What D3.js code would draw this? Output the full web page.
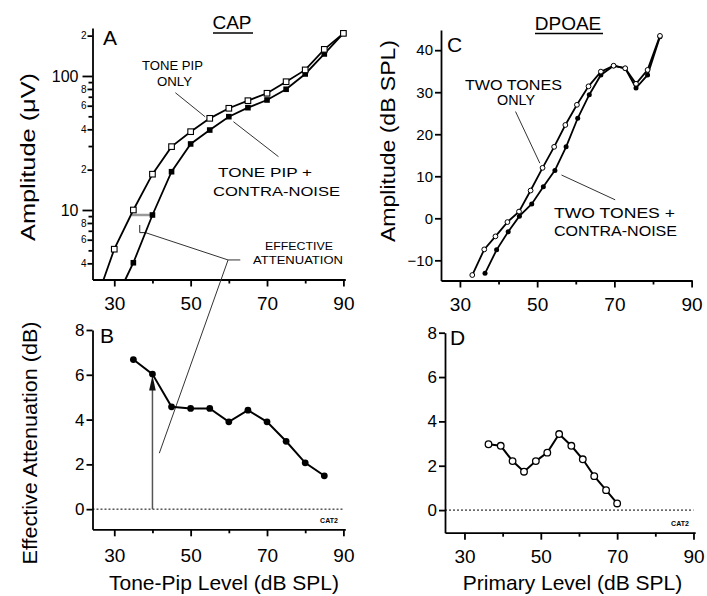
<!DOCTYPE html>
<html>
<head>
<meta charset="utf-8">
<script src="https://cdn.jsdelivr.net/npm/d3@7"></script>
<style>
  body { margin: 0; background: #fff; }
  svg { display: block; font-family: "Liberation Sans", Arial, Helvetica, sans-serif; }
  .axis path, .axis line { stroke: #000; stroke-width: 1.8; }
  .axis text { fill: #000; }
</style>
</head>
<body>
<div class="chart"></div>
<script>
// ---- values ----

// Panel A (CAP): amplitude (uV) vs tone-pip level. First entry = where the line leaves the x-axis
var capLevelOnly  = [27.2, 30, 35, 40, 45, 50, 55, 60, 65, 70, 75, 80, 85, 90];
var capAmpOnly    = [3.03, 5.1, 10.0, 18.5, 29.7, 38.4, 48.3, 57.4, 65.4, 74.3, 90.6, 111, 158, 208];
var capLevelNoise = [32.9, 35, 40, 45, 50, 55, 60, 65, 70, 75, 80, 85, 90];
var capAmpNoise   = [3.03, 4.04, 9.18, 19.3, 31.1, 39.5, 49.7, 58.0, 66.2, 79.6, 103.5, 146, 208];

// Panel B: effective attenuation of the CAP
var attLevel = [35, 40, 45, 50, 55, 60, 65, 70, 75, 80, 85];
var attCap   = [6.68, 6.03, 4.57, 4.5, 4.5, 3.9, 4.42, 3.9, 3.03, 2.07, 1.49];

// Panel C (DPOAE): amplitude (dB SPL) vs primary level
var dpLevelOnly  = [33.2, 36.3, 39.2, 42.3, 45.3, 48.3, 51.4, 54.4, 57.3, 60.3, 63.3, 66.5, 69.8, 72.8, 75.6, 78.6, 81.8];
var dpAmpOnly    = [-13.5, -7.4, -4.3, -0.9, 1.6, 6.6, 12.0, 17.0, 22.2, 27.0, 31.4, 34.9, 36.3, 35.7, 32.0, 35.3, 43.4];
var dpLevelNoise = [36.5, 39.5, 42.5, 45.4, 48.6, 51.6, 54.6, 57.5, 60.5, 63.5, 66.5, 69.8, 72.8, 75.6, 78.6, 81.8];
var dpAmpNoise   = [-13.1, -7.5, -3.2, 0.5, 3.4, 7.5, 11.4, 17.0, 23.8, 29.4, 34.1, 36.3, 35.7, 31.0, 34.1, 43.2];

// Panel D: effective attenuation of the DPOAE
var attDpLevel = [36.3, 39.5, 42.6, 45.6, 48.7, 51.7, 54.8, 58.0, 61.0, 64.0, 67.1, 70.0];
var attDp      = [2.97, 2.90, 2.21, 1.73, 2.21, 2.59, 3.43, 2.90, 2.29, 1.53, 0.90, 0.30];

// tick values and labels
var levelTicks = [30, 50, 70, 90];
var levelMinor = [40, 60, 80];
var capTicks      = [4, 5, 6, 7, 8, 9, 10, 20, 30, 40, 50, 60, 70, 80, 90, 100, 200];
var capTickLabels = ["4", "", "6", "", "8", "", "10", "2", "", "4", "", "6", "", "8", "", "100", "2"];
var dpTicks  = [-10, 0, 10, 20, 30, 40];
var attTicks = [0, 2, 4, 6, 8];

// ---- svg ----
var svg = d3.select(".chart")
  .append("svg")
  .attr("width", 707)
  .attr("height", 596);

// scales for the four panels
var xA = d3.scaleLinear().domain([24.3, 90.5]).range([92.5, 345.3]);
var yA = d3.scaleLog().domain([3.03, 228]).range([279.5, 28]);
var xB = d3.scaleLinear().domain([24.3, 90.5]).range([92.5, 345.3]);
var yB = d3.scaleLinear().domain([-0.9, 8]).range([529.3, 330]);
var xC = d3.scaleLinear().domain([25.1, 90.1]).range([441, 692]);
var yC = d3.scaleLinear().domain([-14.8, 44.8]).range([280.5, 30]);
var xD = d3.scaleLinear().domain([24.9, 90.45]).range([445, 695.2]);
var yD = d3.scaleLinear().domain([-1.02, 8]).range([532.7, 332.7]);

function zip(xs, ys) {
  return xs.map(function(x, i) { return [x, ys[i]]; });
}

// x axis with long labelled ticks and short unlabelled ones
function xAxis(x, yPos, pad) {
  var g = svg.append("g")
    .attr("class", "axis")
    .attr("transform", `translate(0, ${yPos})`)
    .call(d3.axisBottom(x).tickValues(levelTicks).tickSize(7).tickSizeOuter(0)
      .tickPadding(pad).tickFormat(d3.format("d")));
  g.attr("font-family", null);
  g.selectAll("text").style("font-size", "19px");
  svg.append("g")
    .attr("class", "axis")
    .attr("transform", `translate(0, ${yPos})`)
    .call(d3.axisBottom(x).tickValues(levelMinor).tickSize(4).tickFormat(""))
    .select(".domain").remove();
}

function yAxis(y, xPos, ticks, size, fontSize) {
  var g = svg.append("g")
    .attr("class", "axis")
    .attr("transform", `translate(${xPos}, 0)`)
    .call(d3.axisLeft(y).tickValues(ticks).tickSize(size).tickSizeOuter(0).tickPadding(2));
  g.attr("font-family", null);
  g.selectAll("text").style("font-size", fontSize + "px");
  return g;
}

function line(x, y) {
  return d3.line().x(d => x(d[0])).y(d => y(d[1]));
}

function text(str, x, y, size, len, anchor, rot) {
  var t = svg.append("text")
    .attr("x", x)
    .attr("y", y)
    .attr("text-anchor", anchor || "middle")
    .style("font-size", size + "px")
    .text(str);
  if (len) t.attr("textLength", len).attr("lengthAdjust", "spacingAndGlyphs");
  if (rot) t.attr("transform", `rotate(-90, ${x}, ${y})`);
  return t;
}

function seg(x1, y1, x2, y2, color, w) {
  svg.append("line")
    .attr("x1", x1).attr("y1", y1).attr("x2", x2).attr("y2", y2)
    .attr("stroke", color).attr("stroke-width", w);
}

// =================== Panel A ===================
xAxis(xA, 279.5, 10);
var gA = yAxis(yA, 92.5, capTicks, 4, 10);
gA.selectAll(".tick").each(function(d, i) {
  var lab = capTickLabels[i];
  var big = lab === "10" || lab === "100";
  var tk = d3.select(this);
  tk.select("line").attr("x2", big ? -10 : (lab ? -5 : -4));
  tk.select("text")
    .text(lab)
    .attr("x", big ? -14 : -6)
    .style("font-size", big ? "16px" : "10px");
});

// effective attenuation marker in A (horizontal gray bar + bracket)
seg(xA(34.6), yA(9.18), xA(40), yA(9.18), "#999", 2.5);
svg.append("path")
  .attr("d", `M${xA(36.67)},${yA(7.73)}V${yA(6.78)}H${xA(38.15)}`)
  .attr("fill", "none").attr("stroke", "#222").attr("stroke-width", 1);
seg(xA(38.15), yA(6.78), xA(59.8), yA(4.24), "#333", 1);
seg(xA(59.8), yA(4.24), xA(63), yA(4.24), "#333", 1);
seg(xA(59.8), yA(4.24), xB(41.8), yB(2.5), "#333", 1);

svg.append("path").datum(zip(capLevelNoise, capAmpNoise))
  .attr("d", line(xA, yA)).attr("fill", "none").attr("stroke", "#000").attr("stroke-width", 1.8);
svg.append("path").datum(zip(capLevelOnly, capAmpOnly))
  .attr("d", line(xA, yA)).attr("fill", "none").attr("stroke", "#000").attr("stroke-width", 1.8);

svg.selectAll(".capNoise").data(zip(capLevelNoise, capAmpNoise).slice(1))
  .enter().append("rect")
  .attr("x", d => xA(d[0]) - 2.8).attr("y", d => yA(d[1]) - 2.8)
  .attr("width", 5.6).attr("height", 5.6).attr("fill", "#000");
svg.selectAll(".capOnly").data(zip(capLevelOnly, capAmpOnly).slice(1))
  .enter().append("rect")
  .attr("x", d => xA(d[0]) - 2.8).attr("y", d => yA(d[1]) - 2.8)
  .attr("width", 5.6).attr("height", 5.6)
  .attr("fill", "#fff").attr("stroke", "#000").attr("stroke-width", 1.1);

// leaders and labels in A
seg(xA(46.0), yA(75), xA(53.8), yA(49.6), "#333", 1);
seg(xA(61.2), yA(45.6), xA(73.0), yA(25.0), "#333", 1);
text("TONE PIP", 172.5, 69.7, 13, 61);
text("ONLY", 174.5, 86.4, 13, 35);
text("TONE PIP  +", 265, 177.4, 13, 94);
text("CONTRA-NOISE", 276.5, 195.7, 13, 127);
text("EFFECTIVE", 299, 249.6, 10, 68);
text("ATTENUATION", 298, 263.6, 10, 90);

text("CAP", 232, 29, 19);
seg(213, 33, 253, 33, "#000", 1.5);
text("A", 103, 45, 21, null, "start");
text("Amplitude (\u03bcV)", 35, 157, 20, 168, "middle", true);

// =================== Panel B ===================
xAxis(xB, 529.3, 12);
yAxis(yB, 92.5, attTicks, 6, 17);

svg.append("line")
  .attr("x1", xB(24.3)).attr("x2", xB(90))
  .attr("y1", yB(0)).attr("y2", yB(0))
  .attr("stroke", "#000").attr("stroke-width", 1).attr("stroke-dasharray", "2,2");

// arrow at 40 dB
seg(xB(40), yB(0), xB(40), yB(5.4), "#555", 1.5);
svg.append("path")
  .attr("d", `M${xB(40)},${yB(5.98)}L${xB(40) - 3.3},${yB(5.3)}L${xB(40) + 3.3},${yB(5.3)}Z`)
  .attr("fill", "#111");

svg.append("path").datum(zip(attLevel, attCap))
  .attr("d", line(xB, yB)).attr("fill", "none").attr("stroke", "#000").attr("stroke-width", 2);
svg.selectAll(".attCap").data(zip(attLevel, attCap))
  .enter().append("circle")
  .attr("cx", d => xB(d[0])).attr("cy", d => yB(d[1])).attr("r", 3.4).attr("fill", "#000");

text("CAT2", 329, 523, 7).style("font-weight", "bold");
text("B", 100, 343, 21, null, "start");
text("Effective Attenuation (dB)", 37, 443, 20, 243, "middle", true);
text("Tone-Pip Level (dB SPL)", 224, 590, 21);

// =================== Panel C ===================
xAxis(xC, 280.5, 10);
yAxis(yC, 441, dpTicks, 6, 15);

svg.append("path").datum(zip(dpLevelNoise, dpAmpNoise))
  .attr("d", line(xC, yC)).attr("fill", "none").attr("stroke", "#000").attr("stroke-width", 1.8);
svg.append("path").datum(zip(dpLevelOnly, dpAmpOnly))
  .attr("d", line(xC, yC)).attr("fill", "none").attr("stroke", "#000").attr("stroke-width", 1.8);
svg.selectAll(".dpNoise").data(zip(dpLevelNoise, dpAmpNoise))
  .enter().append("circle")
  .attr("cx", d => xC(d[0])).attr("cy", d => yC(d[1])).attr("r", 2.5).attr("fill", "#000");
svg.selectAll(".dpOnly").data(zip(dpLevelOnly, dpAmpOnly))
  .enter().append("circle")
  .attr("cx", d => xC(d[0])).attr("cy", d => yC(d[1])).attr("r", 2.4)
  .attr("fill", "#fff").attr("stroke", "#000").attr("stroke-width", 1);

seg(xC(44.4), yC(25.4), xC(50.7), yC(13.1), "#333", 1);
seg(xC(56.3), yC(10.3), xC(70.2), yC(4.4), "#333", 1);
text("TWO TONES", 513.5, 90, 14, 97);
text("ONLY", 516, 105, 14, 38);
text("TWO TONES  +", 614.5, 218, 14, 121);
text("CONTRA-NOISE", 615.5, 236.4, 14, 123);

text("DPOAE", 568, 30, 19);
seg(535, 33.5, 603, 33.5, "#000", 1.5);
text("C", 447, 51.7, 21, null, "start");
text("Amplitude (dB SPL)", 395, 141, 20, 202, "middle", true);

// =================== Panel D ===================
xAxis(xD, 532.7, 10);
yAxis(yD, 445, attTicks, 6, 17);

svg.append("line")
  .attr("x1", xD(24.9)).attr("x2", xD(90))
  .attr("y1", yD(0)).attr("y2", yD(0))
  .attr("stroke", "#000").attr("stroke-width", 1).attr("stroke-dasharray", "2,2");

svg.append("path").datum(zip(attDpLevel, attDp))
  .attr("d", line(xD, yD)).attr("fill", "none").attr("stroke", "#000").attr("stroke-width", 2);
svg.selectAll(".attDp").data(zip(attDpLevel, attDp))
  .enter().append("circle")
  .attr("cx", d => xD(d[0])).attr("cy", d => yD(d[1])).attr("r", 3.3)
  .attr("fill", "#fff").attr("stroke", "#000").attr("stroke-width", 1.3);

text("CAT2", 680, 526, 7).style("font-weight", "bold");
text("D", 450, 345, 21, null, "start");
text("Primary Level (dB SPL)", 572.5, 590, 21);
</script>
</body>
</html>
